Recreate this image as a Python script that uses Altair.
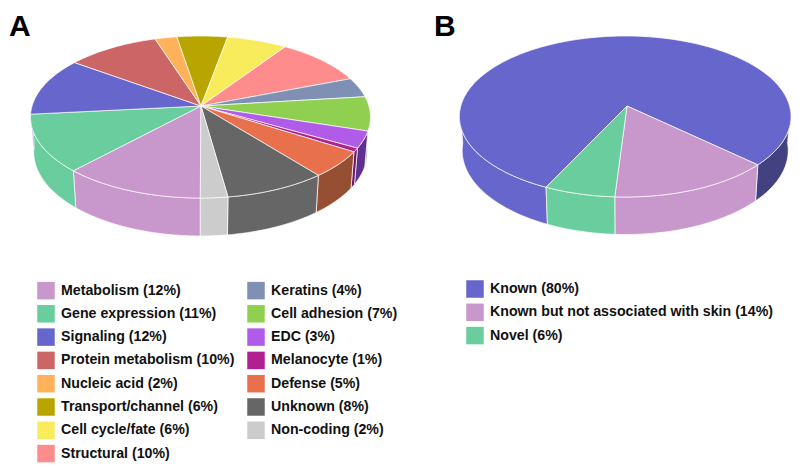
import math
import altair as alt

# Panel A: slice names, legend percentages, drawn span (degrees around the rim, clockwise from the front)
a_names = ["Metabolism", "Gene expression", "Signaling", "Protein metabolism", "Nucleic acid",
           "Transport/channel", "Cell cycle/fate", "Structural", "Keratins", "Cell adhesion",
           "EDC", "Melanocyte", "Defense", "Unknown", "Non-coding"]
a_pct = [12, 11, 12, 10, 2, 6, 6, 10, 4, 7, 3, 1, 5, 8, 2]
a_span = [48.4, 43.6, 40.2, 32.3, 7.5, 17.2, 20.7, 31.9, 13.7, 24.5, 12.6, 2.9, 20.6, 34.6, 9.4]
a_colors = ["#c897cb", "#69cd9e", "#6666cc", "#cc6666", "#ffb25a", "#b8a500", "#f8ec5c", "#ff8c8c",
            "#8090b4", "#90d050", "#b05ce8", "#b02090", "#e8704c", "#666666", "#cccccc"]
a_side = ["#c897cb", "#69cd9e", "#6666cc", "#cc6666", "#ffb25a", "#b8a500", "#f8ec5c", "#ff8c8c",
          "#8090b4", "#8f9c80", "#5e3190", "#74156a", "#964f32", "#666666", "#cccccc"]

# Panel B
b_names = ["Known", "Known but not associated with skin", "Novel"]
b_pct = [80, 14, 6]
b_span = [278.4, 56.7, 24.9]
b_colors = ["#6666cc", "#c897cb", "#69cd9e"]
b_side = ["#6666cc", "#c897cb", "#69cd9e"]
b_side_right = ["#434280", "#c897cb", "#69cd9e"]

# Drawing parameters of each disc (pixel geometry of the tilted pie)
a_geo = dict(start=180.0, cx=200.5, cy=117.0, rx=170.0, ry=81.0, ax=201.0, ay=106.0, cyb=152.0, rxb=166.8, ryb=84.0)
b_geo = dict(start=208.5, cx=625.2, cy=116.5, rx=165.8, ry=80.5, ax=627.0, ay=106.0, cyb=150.5, rxb=163.0, ryb=84.0)


def rim(g, th, bottom=False):
    s, c = math.sin(math.radians(th)), math.cos(math.radians(th))
    if bottom:
        return [g["cx"] + g["rxb"] * s, g["cyb"] - g["ryb"] * c]
    return [g["cx"] + g["rx"] * s, g["cy"] - g["ry"] * c]


def arc(lo, hi):
    n = max(2, int(math.ceil(hi - lo)) + 1)
    return [lo + (hi - lo) * i / (n - 1) for i in range(n)]


def build(labels, spans, sides, sides_right, g):
    tops, walls = [], []
    a0 = g["start"]
    for lab, sp, side, side_r in zip(labels, spans, sides, sides_right):
        a1 = a0 + sp
        ring = [[g["ax"], g["ay"]]] + [rim(g, t) for t in arc(a0, a1)] + [[g["ax"], g["ay"]]]
        tops.append({"type": "Feature", "properties": {"label": lab},
                     "geometry": {"type": "Polygon", "coordinates": [ring]}})
        for w0, w1, shade in ((85, 275, side), (445, 635, side_r)):
            lo, hi = max(a0, w0), min(a1, w1)
            if lo < hi:
                ts = arc(lo, hi)
                poly = [rim(g, t) for t in ts] + [rim(g, t, True) for t in reversed(ts)]
                poly.append(poly[0])
                walls.append({"type": "Feature", "properties": {"shade": shade},
                              "geometry": {"type": "Polygon", "coordinates": [poly]}})
        a0 = a1
    return tops, walls


a_labels = [f"{n} ({p}%)" for n, p in zip(a_names, a_pct)]
b_labels = [f"{n} ({p}%)" for n, p in zip(b_names, b_pct)]
a_tops, a_walls = build(a_labels, a_span, a_side, a_side, a_geo)
b_tops, b_walls = build(b_labels, b_span, b_side, b_side_right, b_geo)

PROJ = dict(type="identity", scale=1, translate=[-8, -8])
FONT = "Liberation Sans"


def walls_layer(feats):
    return alt.Chart(alt.Data(values=feats)).mark_geoshape(
        stroke="white", strokeWidth=0.7
    ).encode(color=alt.Color("properties.shade:N", scale=None)).project(**PROJ)


def legend(x, y, cols, pad):
    return alt.Legend(
        title=None, orient="none", legendX=x, legendY=y, columns=cols, columnPadding=pad,
        symbolType="square", symbolSize=306, symbolStrokeWidth=0, symbolOpacity=1,
        labelFont=FONT, labelFontSize=14.2, labelFontWeight="bold", labelColor="#111111",
        labelOffset=6, labelLimit=400, rowPadding=5.3, padding=0,
    )


def tops_layer(feats, labels, colors, leg):
    return alt.Chart(alt.Data(values=feats)).mark_geoshape(
        stroke="white", strokeWidth=0.7
    ).encode(color=alt.Color("properties.label:N", sort=labels,
                             scale=alt.Scale(domain=labels, range=colors),
                             legend=leg)).project(**PROJ)


letters = alt.Chart(alt.Data(values=[{"t": "A", "px": 1}, {"t": "B", "px": 426}])).mark_text(
    font=FONT, fontSize=30, fontWeight="bold", align="left", baseline="alphabetic", color="black"
).encode(x=alt.X("px:Q", scale=None), y=alt.value(27.5), text="t:N")

chart = alt.layer(
    walls_layer(a_walls),
    walls_layer(b_walls),
    tops_layer(a_tops, a_labels, a_colors, legend(29, 273.5, 2, 12)),
    tops_layer(b_tops, b_labels, b_colors, legend(458, 272, 1, 0)),
    letters,
).resolve_scale(color="independent").properties(
    width=783, height=458, padding=0, autosize=alt.AutoSizeParams(type="none")
).configure_view(stroke=None)

chart.save("out.html", embed_options={"renderer": "svg", "actions": False})
